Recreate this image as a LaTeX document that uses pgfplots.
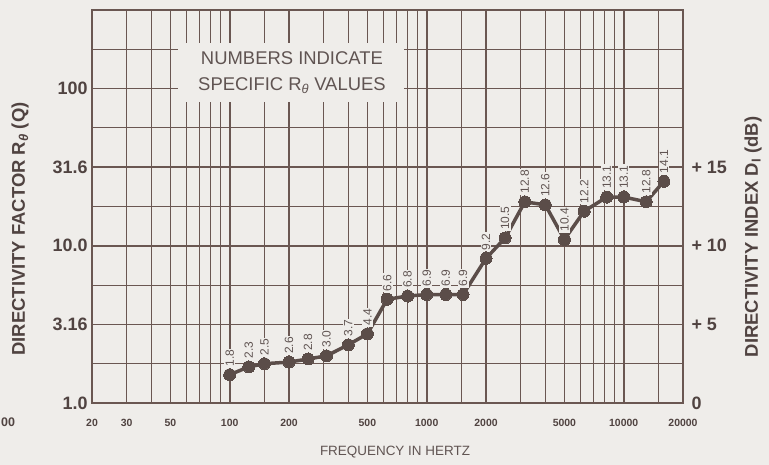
\documentclass[border=0pt]{standalone}
\usepackage{fontspec}
\setmainfont{Liberation Sans}
\usepackage{pgfplots}
\usepackage{pgfplotstable}
\pgfplotsset{compat=1.18}
\definecolor{bgc}{HTML}{EFEDEA}
\definecolor{gridc}{HTML}{6A5752}
\definecolor{txt}{HTML}{504341}
\definecolor{txtl}{HTML}{605452}
\definecolor{ptc}{HTML}{5B4D49}

\pgfplotstableread{
f d
100 1.8
125 2.3
150 2.5
200 2.6
250 2.8
310 3.0
400 3.7
500 4.4
630 6.6
800 6.8
1000 6.9
1250 6.9
1530 6.9
2000 9.2
2500 10.5
3150 12.8
4000 12.6
5000 10.4
6300 12.2
8200 13.1
10000 13.1
13000 12.8
16000 14.1
}\datatab

\begin{document}
\begin{tikzpicture}[x=1bp,y=1bp]
\fill[bgc] (0,0) rectangle (769,465);
\path[use as bounding box] (0,0) rectangle (769,465);
\begin{axis}[
  at={(92bp,62bp)}, anchor=south west,
  scale only axis, width=591bp, height=393bp,
  xmode=log, xmin=20, xmax=20000, ymin=0, ymax=25,
  clip=false,
  /pgf/number format/assume math mode=true,
  xtick={20,50,100,200,500,1000,2000,5000,10000,20000},
  xticklabels={20,50,100,200,500,1000,2000,5000,10000,20000},
  extra x ticks={30}, extra x tick labels={30},
  extra x tick style={major grid style={gridc, line width=0.9bp}},
  minor xtick={40,60,70,80,90,150,300,400,600,700,800,900,1500,3000,4000,6000,7000,8000,9000,15000},
  ytick={0,5,10,15,20,25}, yticklabels={1.0,3.16,10.0,31.6,100,{}},
  minor ytick={2.5,7.5,12.5,17.5,22.5},
  grid=both,
  major grid style={gridc, line width=1.6bp},
  minor grid style={gridc, line width=0.9bp},
  major tick length=0pt, minor tick length=0pt,
  axis line style={gridc, line width=2bp},
  xticklabel style={font=\fontsize{10.5}{12}\selectfont\bfseries, text=txt, yshift=-13bp},
  yticklabel style={font=\fontsize{18}{20}\selectfont\bfseries, text=txt, xshift=-1bp},
]
\node[fill=bgc, inner sep=0pt, minimum width=226bp, minimum height=59bp] at (axis cs:205,21.0) {};
\node[text=txtl, font=\fontsize{18.5}{26}\selectfont, align=center] at (axis cs:207,21.0)
  {NUMBERS INDICATE\\SPECIFIC R\textsubscript{\itshape θ} VALUES};
\addplot[color=ptc, line width=3.5bp, mark=*, mark size=6bp,
  mark options={fill=ptc, draw=ptc, line width=0pt},
  nodes near coords={\pgfmathprintnumber[fixed,fixed zerofill,precision=1]{\pgfplotspointmeta}},
  point meta=y,
  every node near coord/.append style={rotate=90, anchor=west, outer xsep=7bp,
    inner sep=1.2bp, fill=bgc, text=txtl, font=\fontsize{12}{12}\selectfont}
] table[x=f, y=d] {\datatab};
\end{axis}
\begin{axis}[
  at={(92bp,62bp)}, anchor=south west,
  scale only axis, width=591bp, height=393bp,
  xmin=0, xmax=1, ymin=0, ymax=25,
  axis x line=none, axis y line*=right,
  axis line style={draw=none},
  /pgf/number format/assume math mode=true,
  ytick={0,5,10,15}, yticklabels={0,+ 5,+ 10,+ 15},
  major tick length=0pt,
  yticklabel style={font=\fontsize{18}{20}\selectfont\bfseries, text=txt, xshift=5bp},
]
\addplot[draw=none] coordinates {(0,0)};
\end{axis}
\node[rotate=90, text=txt, font=\fontsize{18.5}{20}\selectfont\bfseries] at (20,236)
  {DIRECTIVITY FACTOR R\textsubscript{\itshape θ} (Q)};
\node[rotate=90, text=txt, font=\fontsize{18.5}{20}\selectfont\bfseries] at (753,228)
  {DIRECTIVITY INDEX D\textsubscript{I} (dB)};
\node[text=txtl, font=\fontsize{13.5}{15}\selectfont] at (395,13) {FREQUENCY IN HERTZ};
\node[text=txt, font=\fontsize{12.5}{14}\selectfont\bfseries, anchor=west, inner sep=0pt] at (1,43) {00};
\end{tikzpicture}
\end{document}
